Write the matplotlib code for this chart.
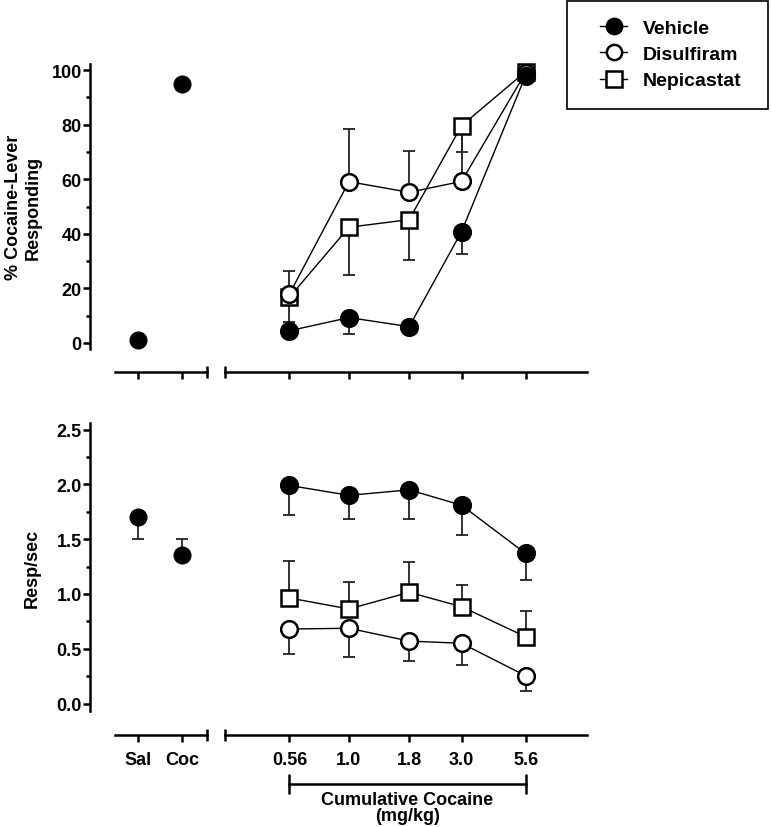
import numpy as np
import matplotlib
matplotlib.use('Agg')
import matplotlib.pyplot as plt
from matplotlib.transforms import offset_copy
from matplotlib.patches import Rectangle
from matplotlib.ticker import NullLocator
from matplotlib.lines import Line2D

plt.rcParams['font.family'] = ['Liberation Sans', 'DejaVu Sans']
plt.rcParams['font.weight'] = 'bold'
plt.rcParams['axes.labelweight'] = 'bold'

# ---- data ----
control_labels = ['Sal', 'Coc']
doses = [0.56, 1.0, 1.8, 3.0, 5.6]
dose_labels = ['0.56', '1.0', '1.8', '3.0', '5.6']

# % cocaine-lever responding
pct_ctrl = [1.2, 94.8]
pct_vehicle = [4.5, 9.3, 6.0, 40.8, 97.9]
pct_vehicle_sem = [0.0, 6.0, 1.5, 8.2, 0.0]          # drawn downward
pct_disulfiram = [18.0, 59.1, 55.2, 59.2, 99.0]
pct_disulfiram_sem = [8.5, 19.3, 15.0, 20.0, 0.0]    # drawn upward
pct_nepicastat = [16.8, 42.4, 45.2, 79.6, 99.4]
pct_nepicastat_sem = [9.0, 17.4, 14.8, 9.6, 0.0]     # drawn downward

# response rate
rate_ctrl = [1.70, 1.36]
rate_ctrl_sem_lo = [0.20, 0.0]
rate_ctrl_sem_hi = [0.0, 0.14]
rate_vehicle = [1.99, 1.90, 1.95, 1.81, 1.37]
rate_vehicle_sem = [0.27, 0.22, 0.27, 0.27, 0.24]    # downward
rate_disulfiram = [0.68, 0.687, 0.57, 0.55, 0.254]
rate_disulfiram_sem = [0.23, 0.26, 0.185, 0.20, 0.137]  # downward
rate_nepicastat = [0.963, 0.863, 1.015, 0.884, 0.61]
rate_nepicastat_sem = [0.34, 0.25, 0.28, 0.20, 0.23]   # upward

W, H = 771, 828
fig = plt.figure(figsize=(W / 100, H / 100), dpi=100)


def fbox(x0, x1, y0, y1):
    # pixel box -> figure fraction [left, bottom, width, height]
    return [x0 / W, 1 - y1 / H, (x1 - x0) / W, (y1 - y0) / H]


styles = {
    'Vehicle': dict(marker='o', mfc='black', ms=12),
    'Disulfiram': dict(marker='o', mfc='white', ms=12),
    'Nepicastat': dict(marker='s', mfc='white', ms=11),
}


def make_row(y0, y1, ylim, major, minor, offset, show_labels):
    ax_l = fig.add_axes(fbox(90, 207, y0, y1))
    ax_r = fig.add_axes(fbox(225, 587, y0, y1))
    for ax in (ax_l, ax_r):
        ax.set_facecolor('none')
        ax.set_ylim(ylim)
        ax.spines['top'].set_visible(False)
        ax.spines['right'].set_visible(False)
        ax.spines['bottom'].set_position(('outward', offset))
        ax.spines['bottom'].set_linewidth(1.8)
        ax.tick_params(axis='x', which='major', direction='out', length=5,
                       width=1.8, labelsize=13, pad=6, labelbottom=show_labels)
    ax_l.spines['left'].set_linewidth(1.8)
    ax_l.set_yticks(major)
    ax_l.set_yticks(minor, minor=True)
    ax_l.tick_params(axis='y', which='major', length=5, width=1.8,
                     labelsize=13, pad=1)
    ax_l.tick_params(axis='y', which='minor', length=3, width=1.8)
    ax_r.spines['left'].set_visible(False)
    ax_r.tick_params(axis='y', which='both', left=False, labelleft=False)

    ax_l.set_xlim(-1.115, 1.575)
    ax_l.spines['bottom'].set_bounds(-0.54, 1.575)
    ax_l.set_xticks(range(len(control_labels)))
    ax_l.set_xticklabels(control_labels)

    ax_r.set_xscale('log')
    ax_r.set_xlim(0.2985, 10.2)
    ax_r.set_xticks(doses)
    ax_r.set_xticklabels(dose_labels)
    ax_r.xaxis.set_minor_locator(NullLocator())

    # break caps at the ends of the two x-axis pieces
    for ax, xe in ((ax_l, 1.575), (ax_r, 0.2985)):
        tr = offset_copy(ax.get_xaxis_transform(), fig=fig, y=-offset, units='points')
        ax.plot([xe], [0], marker='|', ms=9, mew=1.8, color='black',
                transform=tr, clip_on=False)
    return ax_l, ax_r


def draw_series(ax, y, sem, up, name):
    sem = np.asarray(sem)
    zero = np.zeros_like(sem)
    yerr = [zero, sem] if up else [sem, zero]
    ax.errorbar(doses, y, yerr=yerr, fmt='none', ecolor='#222222',
                elinewidth=1.3, capsize=4, capthick=1.3, zorder=2, clip_on=False)
    st = styles[name]
    line, = ax.plot(doses, y, color='black', lw=1.0, marker=st['marker'],
                    mfc=st['mfc'], mec='black', mew=1.8, ms=st['ms'],
                    zorder=3, clip_on=False, label=name)
    return line


# ---- top row: % cocaine-lever responding ----
t_l, t_r = make_row(65, 350, (-2.2, 102.2), np.arange(0, 101, 20),
                    np.arange(10, 100, 20), 16.5, False)
t_l.plot(range(len(control_labels)), pct_ctrl, 'o', color='black', ms=12,
         clip_on=False, zorder=3)
draw_series(t_r, pct_nepicastat, pct_nepicastat_sem, False, 'Nepicastat')
draw_series(t_r, pct_disulfiram, pct_disulfiram_sem, True, 'Disulfiram')
draw_series(t_r, pct_vehicle, pct_vehicle_sem, False, 'Vehicle')
t_l.set_ylabel('% Cocaine-Lever\nResponding', fontsize=13, linespacing=1.2,
               va='center', ha='center')
t_l.yaxis.set_label_coords(-0.573, 0.5)

# ---- bottom row: response rate ----
b_l, b_r = make_row(424, 712, (-0.068, 2.56), np.arange(0, 2.6, 0.5),
                    np.arange(0.25, 2.5, 0.5), 17.5, True)
b_l.errorbar(range(len(control_labels)), rate_ctrl,
             yerr=[rate_ctrl_sem_lo, rate_ctrl_sem_hi], fmt='none',
             ecolor='#222222', elinewidth=1.3, capsize=4, capthick=1.3, zorder=2)
b_l.plot(range(len(control_labels)), rate_ctrl, 'o', color='black', ms=12,
         clip_on=False, zorder=3)
draw_series(b_r, rate_nepicastat, rate_nepicastat_sem, True, 'Nepicastat')
draw_series(b_r, rate_disulfiram, rate_disulfiram_sem, False, 'Disulfiram')
draw_series(b_r, rate_vehicle, rate_vehicle_sem, False, 'Vehicle')
b_l.set_ylabel('Resp/sec', fontsize=13, va='center', ha='center')
b_l.yaxis.set_label_coords(-0.496, 0.5)

# bracket for the cumulative dosing range
tr = offset_copy(b_r.get_xaxis_transform(), fig=fig, y=-52.5, units='points')
b_r.plot([doses[0], doses[-1]], [0, 0], color='black', lw=1.8, marker='|',
         ms=15, mew=1.8, transform=tr, clip_on=False)
tr_txt = offset_copy(b_r.get_xaxis_transform(), fig=fig, y=-57.5, units='points')
b_r.text(np.sqrt(doses[0] * doses[-1]), 0, 'Cumulative Cocaine\n(mg/kg)',
         transform=tr_txt, ha='center', va='top', fontsize=13, linespacing=0.9)

# legend with a square frame
fig.add_artist(Rectangle((567 / W, 1 - 110 / H), 201 / W, 108 / H,
                         transform=fig.transFigure, fill=False,
                         edgecolor='black', lw=1.2))
handles = [Line2D([], [], color='black', lw=1.0, marker=styles[n]['marker'],
                  mfc=styles[n]['mfc'], mec='black', mew=1.8, ms=11)
           for n in ['Vehicle', 'Disulfiram', 'Nepicastat']]
fig.legend(handles, ['Vehicle', 'Disulfiram', 'Nepicastat'],
           loc='upper left', bbox_to_anchor=(600 / W, 1 - 20 / H),
           frameon=False, borderpad=0, borderaxespad=0, fontsize=14,
           handlelength=1.4, handletextpad=0.8, labelspacing=0.45, numpoints=1)

fig.savefig('out.png', dpi=100)
